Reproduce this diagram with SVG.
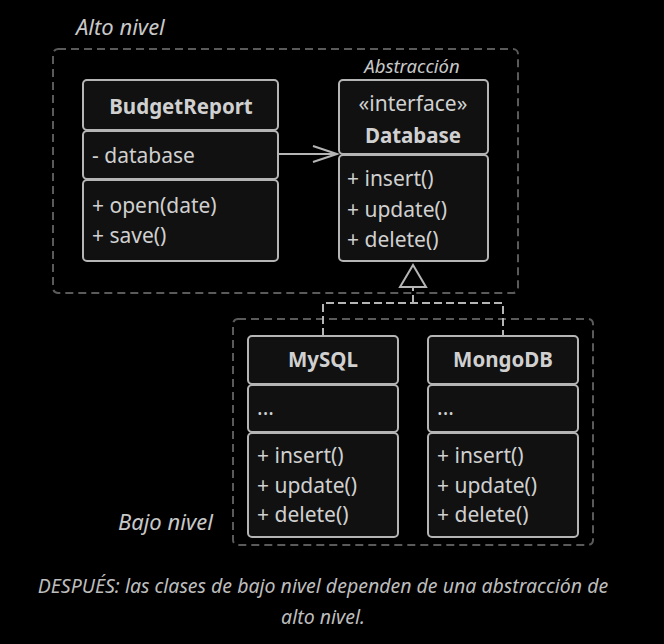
<svg xmlns="http://www.w3.org/2000/svg" width="664" height="644" viewBox="0 0 664 644">
<style>
.bg{fill:#000}
.grp{fill:none;stroke:#5a5a5a;stroke-width:2;stroke-dasharray:8,5}
.cmp{fill:#111;stroke:#b5b5b5;stroke-width:2}
text{font-family:"Noto Sans","DejaVu Sans",sans-serif;fill:#d0d0d0}
.t{font-size:21px}
.b{font-size:20.5px;font-weight:bold;text-anchor:middle}
.c{font-size:21px;text-anchor:middle}
.i{font-style:italic}
.lbl{font-size:22px;font-style:italic;fill:#c8c8c8}
.cap{font-size:19.5px;font-style:italic;fill:#bdbdbd;text-anchor:middle}
.con{fill:none;stroke:#b5b5b5;stroke-width:2}
.dash{stroke-dasharray:8,4}
</style>
<rect class="bg" x="0" y="0" width="664" height="644"/>
<g id="alto-nivel">
<rect class="grp" x="53" y="49" width="465" height="244" rx="5"/>
<text class="lbl" x="76" y="35">Alto nivel</text>
</g>
<g id="bajo-nivel">
<rect class="grp" x="233" y="319" width="360" height="226" rx="5"/>
<text class="lbl" x="118" y="530">Bajo nivel</text>
</g>
<g id="connectors">
<line class="con" x1="278" y1="154" x2="337" y2="154"/>
<polyline class="con" points="313,146 337,154 313,162"/>
<polyline class="con dash" points="323,336 323,303 503,303 503,336"/>
<line class="con dash" x1="413" y1="303" x2="413" y2="287"/>
<polygon class="con" points="413,265 400,287 426,287" style="fill:#000"/>
</g>
<g id="BudgetReport">
<rect class="cmp" x="83" y="80" width="195" height="50" rx="4"/>
<rect class="cmp" x="83" y="131" width="195" height="48" rx="4"/>
<rect class="cmp" x="83" y="180" width="195" height="81" rx="4"/>
<text class="b" x="181" y="114">BudgetReport</text>
<text class="t" x="92" y="163">- database</text>
<text class="t" x="92" y="213">+ open(date)</text>
<text class="t" x="92" y="243">+ save()</text>
</g>
<g id="Database">
<text class="i" x="412" y="73" style="font-size:18.5px;text-anchor:middle;fill:#c8c8c8">Abstracción</text>
<rect class="cmp" x="339" y="80" width="149" height="74" rx="4"/>
<rect class="cmp" x="339" y="155" width="149" height="106" rx="4"/>
<text class="c" x="413" y="111">«interface»</text>
<text class="b" x="413" y="143">Database</text>
<text class="t" x="347" y="186">+ insert()</text>
<text class="t" x="347" y="217">+ update()</text>
<text class="t" x="347" y="247">+ delete()</text>
</g>
<g id="MySQL">
<rect class="cmp" x="248" y="336" width="150" height="48" rx="4"/>
<rect class="cmp" x="248" y="385" width="150" height="47" rx="4"/>
<rect class="cmp" x="248" y="433" width="150" height="104" rx="4"/>
<text class="b" x="323" y="367">MySQL</text>
<text class="t" x="257" y="415">...</text>
<text class="t" x="257" y="463">+ insert()</text>
<text class="t" x="257" y="493">+ update()</text>
<text class="t" x="257" y="522">+ delete()</text>
</g>
<g id="MongoDB">
<rect class="cmp" x="428" y="336" width="150" height="48" rx="4"/>
<rect class="cmp" x="428" y="385" width="150" height="47" rx="4"/>
<rect class="cmp" x="428" y="433" width="150" height="104" rx="4"/>
<text class="b" x="503" y="367">MongoDB</text>
<text class="t" x="437" y="415">...</text>
<text class="t" x="437" y="463">+ insert()</text>
<text class="t" x="437" y="493">+ update()</text>
<text class="t" x="437" y="522">+ delete()</text>
</g>
<g id="caption">
<text class="cap" x="323" y="593">DESPUÉS: las clases de bajo nivel dependen de una abstracción de</text>
<text class="cap" x="323" y="624">alto nivel.</text>
</g>
</svg>
